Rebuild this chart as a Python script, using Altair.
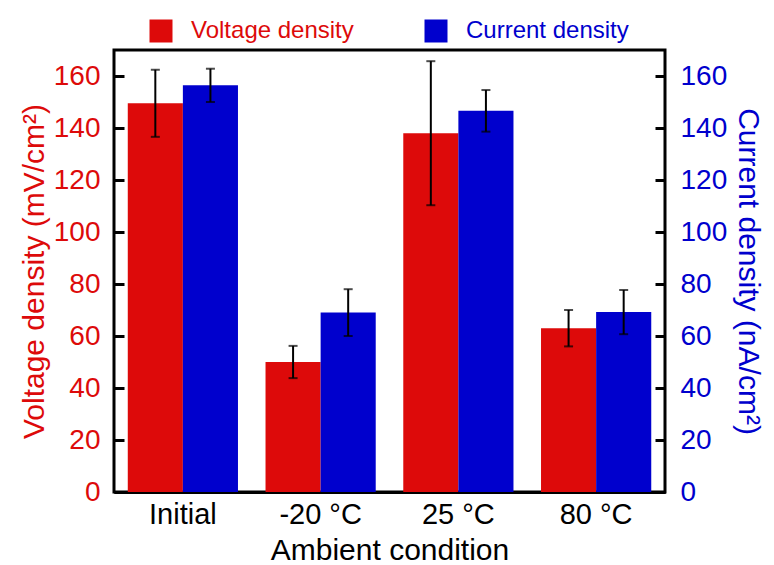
import altair as alt
import pandas as pd

conditions = ["Initial", "-20 °C", "25 °C", "80 °C"]
series_names = ["Voltage density", "Current density"]
voltage = [149.5, 50.0, 138.0, 63.0]
voltage_err = [12.9, 6.2, 27.7, 7.0]
current = [156.4, 69.0, 146.6, 69.2]
current_err = [6.4, 9.0, 8.0, 8.5]
y_ticks = [0, 20, 40, 60, 80, 100, 120, 140, 160]

RED = "#dd0a0a"
BLUE = "#0000cd"
FONT = "Liberation Sans"


def frame(values, errs, name):
    return pd.DataFrame({
        "condition": conditions,
        "series": name,
        "value": values,
        "lo": [v - e for v, e in zip(values, errs)],
        "hi": [v + e for v, e in zip(values, errs)],
    })


dv = frame(voltage, voltage_err, series_names[0])
dc = frame(current, current_err, series_names[1])

x_enc = alt.X(
    "condition:N", sort=conditions,
    scale=alt.Scale(paddingInner=0.2, paddingOuter=0.1),
    axis=alt.Axis(title="Ambient condition", labelAngle=0, ticks=False,
                  labelFontSize=29, titleFontSize=30, labelColor="black",
                  titleColor="black", labelPadding=8, titlePadding=6,
                  domainWidth=3, domainColor="black"),
)
xoff = alt.XOffset("series:N", sort=series_names,
                   scale=alt.Scale(domain=series_names, paddingInner=0, paddingOuter=0))
color = alt.Color(
    "series:N",
    scale=alt.Scale(domain=series_names, range=[RED, BLUE]),
    legend=alt.Legend(
        title=None, orient="none", legendX=35, legendY=-31, direction="horizontal",
        symbolType="square", symbolSize=529, symbolStrokeWidth=0,
        labelFontSize=24, labelFont=FONT, labelOffset=18, columnPadding=70,
        padding=0, labelLimit=400,
        labelColor={"expr": f"datum.value == '{series_names[0]}' ? '{RED}' : '{BLUE}'"},
    ),
)


def side(df, axis):
    yscale = alt.Scale(domain=[0, 170], nice=False, zero=True)
    title = axis.title
    base = alt.Chart(df)
    bars = base.mark_bar().encode(
        x=x_enc, xOffset=xoff,
        y=alt.Y("value:Q", scale=yscale, axis=axis, title=title), color=color)
    rule = base.mark_rule(color="black", strokeWidth=2).encode(
        x=x_enc, xOffset=xoff,
        y=alt.Y("lo:Q", scale=yscale, axis=axis, title=title), y2="hi:Q")
    cap_lo = base.mark_tick(color="black", size=9, thickness=2).encode(
        x=x_enc, xOffset=xoff, y=alt.Y("lo:Q", scale=yscale, axis=axis, title=title))
    cap_hi = base.mark_tick(color="black", size=9, thickness=2).encode(
        x=x_enc, xOffset=xoff, y=alt.Y("hi:Q", scale=yscale, axis=axis, title=title))
    return alt.layer(bars, rule, cap_lo, cap_hi)


left_axis = alt.Axis(
    title="Voltage density (mV/cm²)", orient="left", values=y_ticks,
    labelColor=RED, titleColor=RED, labelFontSize=28, titleFontSize=30,
    labelPadding=14, titlePadding=4, tickSize=10, tickWidth=3, tickColor="black",
    offset=-10, domain=False, grid=False,
)
right_axis = alt.Axis(
    title="Current density (nA/cm²)", orient="right", values=y_ticks,
    labelColor=BLUE, titleColor=BLUE, labelFontSize=28, titleFontSize=30,
    labelPadding=15, titlePadding=6, tickSize=10, tickWidth=3, tickColor="black",
    offset=-10, domain=False, grid=False,
)

chart = (
    alt.layer(side(dv, left_axis), side(dc, right_axis))
    .resolve_scale(y="independent")
    .properties(width=551, height=442, autosize="none",
                padding={"left": 114, "top": 50, "right": 109, "bottom": 73})
    .configure_view(stroke="black", strokeWidth=3)
    .configure_axis(labelFont=FONT, titleFont=FONT, titleFontWeight="normal")
    .configure_legend(labelFont=FONT)
)

chart.save("out.html", embed_options={"renderer": "svg", "actions": False})
